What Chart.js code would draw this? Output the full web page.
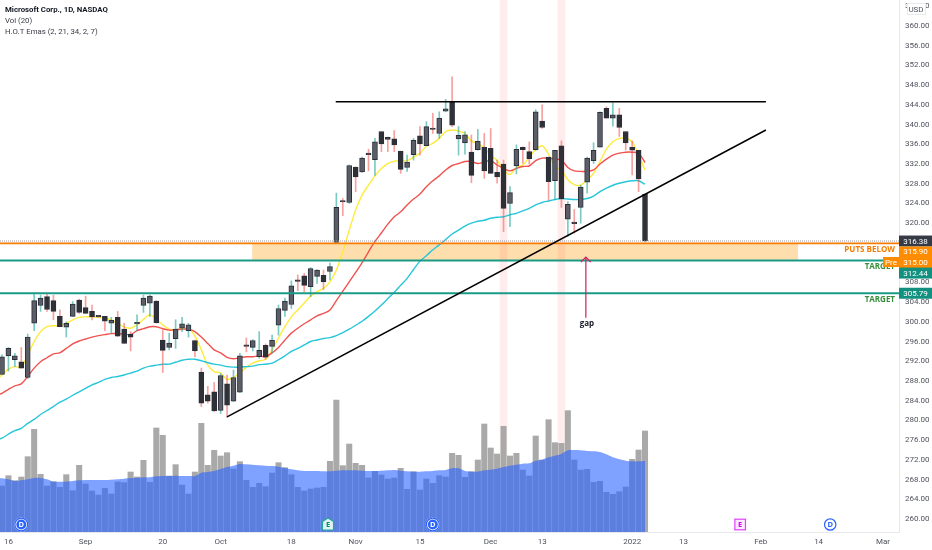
<!DOCTYPE html>
<html><head><meta charset="utf-8">
<style>html,body{margin:0;padding:0;background:#fff}canvas{display:block}</style>
<script src="https://cdn.jsdelivr.net/npm/chart.js@4"></script></head>
<body><canvas id="c" width="932" height="550"></canvas>
<script>
const legendLines = ["Microsoft Corp., 1D, NASDAQ","Vol (20)","H.O.T Emas (2, 21, 34, 2, 7)"];
const candleOpen = [289.3,293.1,292.3,291.9,288.7,299.7,303.3,305.1,304.3,301.1,298.9,301.1,304.4,302.9,302.1,301.2,301.1,299.7,300.9,298.5,297.5,299.6,303.3,303.8,304.2,296.3,294.8,296.6,298.7,298.2,296.2,289.8,285.2,285.8,282.0,287.4,283.9,285.7,295.2,294.8,292.9,295.2,295.0,299.3,302.3,303.5,308.4,309.3,307.1,309.2,309.4,310.2,316.1,324.5,324.2,331.4,330.4,334.1,332.9,338.6,337.4,337.1,334.6,331.3,333.9,337.7,335.7,339.2,338.2,342.7,344.6,337.1,336.3,334.4,334.9,335.4,335.2,330.3,332.0,324.0,331.6,335.4,334.5,334.9,340.7,333.4,328.6,335.7,320.8,320.1,323.2,328.3,332.7,335.4,343.3,341.3,342.0,338.6,335.4,334.8,325.9];
const candleHigh = [293.3,294.8,293.6,294.8,297.5,305.8,305.4,305.6,305.4,302.4,300.0,304.1,304.6,305.2,303.4,301.3,301.1,300.9,302.1,299.7,298.0,301.4,305.4,305.4,304.3,298.7,297.7,300.4,300.9,299.7,296.3,290.6,286.9,287.7,289.5,289.2,290.2,293.6,296.7,296.4,298.0,295.5,297.3,303.4,304.8,308.3,309.5,309.8,311.0,310.6,310.5,311.9,326.1,325.0,331.8,331.4,333.4,335.0,337.2,338.6,337.5,338.8,334.6,333.8,337.2,339.6,340.6,342.3,342.6,345.1,349.7,339.6,338.6,337.9,339.0,338.2,339.2,332.8,332.8,327.4,335.9,335.5,336.5,343.0,344.0,333.4,334.8,336.7,324.4,322.8,327.7,333.4,336.3,342.6,343.6,344.4,343.3,338.6,336.7,334.8,325.9];
const candleLow = [289.3,290.0,290.9,290.6,288.5,298.2,302.1,302.1,300.4,299.0,296.9,301.1,301.7,301.7,300.4,300.9,298.2,297.7,297.0,295.6,294.1,298.2,301.9,301.1,299.7,289.7,294.3,294.6,298.0,296.9,292.9,282.8,283.5,281.8,281.4,280.6,283.8,285.6,293.9,294.1,292.6,292.4,293.7,297.3,301.1,302.7,306.3,306.1,305.1,307.8,306.5,308.5,316.1,321.5,324.0,326.4,330.3,330.6,329.7,334.5,334.5,334.5,330.1,330.5,332.8,333.8,335.7,338.2,337.2,342.6,339.6,333.8,334.0,328.2,334.8,329.1,330.1,328.1,318.3,319.3,330.0,332.1,332.0,334.8,339.2,324.7,324.7,323.2,317.3,318.0,320.0,326.1,332.1,335.4,341.3,339.7,337.6,334.8,329.8,326.4,316.2];
const candleClose = [292.9,294.6,293.1,290.6,296.9,304.3,304.8,302.5,302.1,299.0,299.7,303.6,301.9,301.7,301.0,301.0,300.1,300.3,297.1,295.6,296.9,299.8,304.8,305.2,299.8,294.2,295.7,298.5,299.6,299.4,294.1,283.5,283.9,281.9,289.1,283.1,288.7,293.1,295.0,296.2,294.2,292.8,296.3,302.7,304.2,307.3,308.2,307.4,310.8,310.5,308.1,311.2,323.2,324.3,331.7,329.4,333.2,333.9,336.5,336.1,337.0,335.9,330.9,332.4,336.8,336.1,339.6,339.0,341.3,343.2,339.9,337.8,337.9,329.7,336.6,330.6,330.1,329.4,323.0,326.2,335.0,334.9,333.1,342.6,339.4,328.4,334.8,324.9,323.8,319.9,327.3,333.2,334.8,342.5,341.3,342.0,339.4,336.3,334.8,329.0,316.38];
const volume = [13.8,16.9,15.4,16.5,22.6,30.8,17.3,13.8,15.1,13.4,17.2,12.4,20.0,14.4,12.3,11.1,13.1,11.4,15.0,14.8,18.0,16.5,21.5,14.9,31.2,29.0,16.8,20.2,14.1,11.4,18.0,32.6,20.0,24.5,22.8,23.8,18.9,21.1,15.5,13.4,14.6,13.6,17.7,20.8,19.3,17.2,13.4,12.3,12.9,13.2,13.4,21.2,39.6,19.9,26.4,20.6,20.0,16.2,18.2,17.1,15.9,16.2,19.1,12.8,18.1,12.6,15.9,14.6,16.9,16.5,23.6,23.0,16.4,18.1,21.6,32.4,25.2,23.4,31.7,22.8,23.6,18.6,16.8,28.8,21.6,33.7,26.8,26.6,36.4,21.6,18.6,18.8,14.9,15.2,11.9,11.3,12.1,13.5,21.8,24.6,30.3];
// the moving averages start one session before the first visible candle
const volAverage = [16.2,16.1,15.8,15.3,15.5,15.8,16.2,16.2,15.8,15.1,15.1,15.1,15.3,15.5,15.6,15.6,15.6,15.6,15.7,15.8,16.0,16.2,16.3,16.4,16.4,16.7,16.8,16.8,16.9,16.8,16.8,16.8,17.8,18.0,18.3,18.9,19.5,19.9,20.4,20.3,20.2,20.0,19.9,19.8,19.6,19.2,18.8,18.5,18.3,18.3,18.3,18.2,18.2,18.4,18.5,18.5,18.5,18.4,18.3,18.3,18.4,18.5,18.6,18.4,18.2,18.1,18.1,18.2,18.3,18.5,18.6,19.1,19.1,18.3,18.1,18.1,18.5,18.7,19.0,19.5,19.9,20.2,20.5,20.6,21.4,21.7,22.4,22.9,23.4,24.5,24.6,24.5,24.3,24.2,24.0,23.3,22.4,21.8,21.4,21.2,21.2,21.3];
const emaFast = [288.2,289.2,290.4,290.9,290.8,293.3,296.0,298.0,299.0,299.2,299.2,299.7,300.4,300.9,301.0,301.0,300.9,300.7,300.4,299.7,298.9,298.7,299.4,300.5,301.4,300.5,299.4,298.5,298.3,298.7,298.7,297.1,294.3,291.2,289.9,289.6,288.3,288.7,289.6,290.8,291.6,292.1,292.4,294.3,296.7,299.0,301.0,302.4,303.8,305.2,306.1,306.8,308.1,310.5,314.2,318.6,322.7,325.7,327.7,329.6,331.1,332.1,332.6,332.6,332.7,333.4,334.2,335.6,336.2,337.2,338.6,338.9,338.7,338.2,336.7,336.1,335.3,333.8,332.7,330.8,329.9,331.3,331.8,333.4,334.9,335.7,334.0,331.5,330.8,328.8,327.8,327.7,328.8,330.1,332.5,335.0,336.5,337.2,337.2,336.5,333.8,330.8];
const emaMid = [285.0,285.5,286.3,287.0,287.4,288.9,290.6,291.9,292.7,293.5,293.7,294.6,295.5,296.1,296.5,296.9,297.2,297.4,297.6,297.6,297.5,297.4,298.2,298.6,299.0,299.0,298.6,298.3,298.4,298.5,298.5,298.0,296.9,295.6,294.3,293.7,292.8,292.5,292.7,292.9,292.9,293.1,292.9,293.7,294.8,296.3,297.7,298.7,299.6,300.4,301.2,301.7,302.4,304.3,306.2,308.1,310.0,312.0,314.2,316.3,318.0,319.8,321.3,322.3,323.7,324.9,325.9,327.4,328.6,329.6,330.8,331.7,332.1,332.5,332.5,332.1,332.4,332.7,331.8,331.1,330.6,331.1,331.5,331.6,332.7,333.2,333.2,333.0,332.8,331.3,330.6,330.5,330.5,330.8,332.0,333.0,333.8,334.2,334.4,334.4,334.2,332.3];
const emaSlow = [276.0,276.4,277.2,277.9,278.4,279.4,280.2,281.2,282.0,282.8,283.7,284.3,285.1,285.8,286.5,287.2,287.7,288.3,288.7,288.9,289.2,289.6,290.0,290.6,291.0,291.2,291.4,291.4,291.8,292.2,292.4,292.4,292.1,291.7,291.4,291.2,290.9,290.8,290.8,290.9,291.0,291.3,291.4,291.6,292.3,293.1,294.0,294.6,295.3,296.0,296.3,296.6,296.8,297.2,297.8,298.5,299.3,300.1,301.1,302.2,303.4,304.7,306.0,307.4,308.8,310.6,312.3,313.4,314.6,315.6,316.7,317.8,318.6,319.4,320.0,320.4,320.6,321.0,321.2,321.3,321.7,322.0,322.5,323.0,323.7,324.2,324.5,324.8,325.0,324.9,324.8,324.8,325.0,325.5,326.4,327.1,327.7,328.1,328.4,328.6,328.6,327.9];
const yTicks = [364,360,356,352,348,344,340,336,332,328,324,320,308,304,300,296,292,288,284,280,276,272,268,264,260];
const xTickPositions = [1,13,25,34,45,55,65,76,84,98,106,118,127,137];
const xTickLabels = ["16","Sep","20","Oct","18","Nov","15","Dec","13","2022","13","Feb","14","Mar"];
const highlightDays = [78,87];
const resistanceX = [51.9,118.8], resistanceY = [344.65,344.65];
const trendX = [35,118.8], trendY = [280.7,338.9];
const gapArrowX = [90.8,90.8], gapArrowY = [300.8,313.1];
const zoneX = [38.9,123.8], zoneY = [312.44,315.9];
const lastPrice = 316.38, putsLevel = 315.9, targetLevels = [312.44,305.79];
const priceTags = [[316.38,"316.38","#363a45"],[315.90,"315.90","#ff8c00"],[315.00,"315.00","#ff8c00"],[312.44,"312.44","#119080"],[305.79,"305.79","#119080"]];
const badges = [[3,"D","past"],[50.7,"E","pastE"],[67,"D","past"],[114.8,"E","nextE"],[128.8,"D","next"]];

const F = "'Roboto',sans-serif";
const T = "'Open Sans',sans-serif";
const xMin=-0.311, xMax=139.5, yMin=257.36, yMax=365.27;
const seq=(a,off=0)=>a.map((v,i)=>({x:i+off,y:v}));
const pts=(xs,ys)=>xs.map((x,i)=>({x,y:ys[i]}));
const up=candleOpen.map((o,i)=>candleClose[i]>=o);
const flat=(xs,y)=>xs.map(x=>({x,y}));
const line=(data,color,w,order,extra={})=>Object.assign({type:'line',data,borderColor:color,borderWidth:w,pointRadius:0,order,yAxisID:'y',fill:false,tension:0},extra);

const draw={id:'draw',
 beforeDatasetsDraw(ch){const{ctx,scales:{x,y}}=ch;ctx.save();
  ctx.fillStyle='rgba(255,152,0,0.32)';
  ctx.fillRect(x.getPixelForValue(zoneX[0]),y.getPixelForValue(zoneY[1]),x.getPixelForValue(zoneX[1])-x.getPixelForValue(zoneX[0]),y.getPixelForValue(zoneY[0])-y.getPixelForValue(zoneY[1]));
  ctx.restore();},
 afterDraw(ch){const{ctx,scales:{x,y}}=ch;ctx.save();
  const ax=x.getPixelForValue(gapArrowX[1]),ay=y.getPixelForValue(gapArrowY[1]);
  ctx.strokeStyle='#d81b60';ctx.lineWidth=1.2;ctx.beginPath();ctx.moveTo(ax-5,ay+5);ctx.lineTo(ax,ay);ctx.lineTo(ax+5,ay+5);ctx.stroke();
  ctx.fillStyle='#131722';ctx.font='bold 8px '+T;ctx.textAlign='center';ctx.textBaseline='middle';
  ctx.fillText('gap',ax+1,324);
  ctx.textAlign='right';ctx.font='bold 8px '+T;
  ctx.fillStyle='#f57c00';ctx.fillText('PUTS BELOW',895,y.getPixelForValue(putsLevel)+6);
  ctx.fillStyle='#388e3c';
  targetLevels.forEach(t=>ctx.fillText('TARGET',895,y.getPixelForValue(t)+6.5));
  const nudge=[0,8.6,14.7,12.6,0];
  ctx.textAlign='center';ctx.font='8px '+F;
  priceTags.forEach((t,i)=>{const c=y.getPixelForValue(t[0])+nudge[i];
    ctx.fillStyle=t[2];ctx.fillRect(899,c-5.5,33,11);
    ctx.fillStyle='#fff';ctx.fillText(t[1],915.5,c+.5);});
  ctx.fillStyle='#ff8c00';ctx.fillRect(883,257,16,10);
  ctx.fillStyle='#fff';ctx.fillText('Pre',891,262.5);
  ctx.fillStyle='#fff';ctx.fillRect(907,3,19,12);
  ctx.strokeStyle='#d0d3da';ctx.lineWidth=1;ctx.setLineDash([1,1]);ctx.strokeRect(907.5,3.5,18,11);ctx.setLineDash([]);
  ctx.fillStyle='#50535e';ctx.font='8px '+F;ctx.fillText('USD',916,9.5);
  ctx.textAlign='left';ctx.fillStyle='#131722';
  ctx.font='bold 7.8px '+F;ctx.fillText(legendLines[0],5,10);
  ctx.fillStyle='#3a3d47';ctx.font='7.8px '+F;ctx.fillText(legendLines[1],5,21);ctx.fillText(legendLines[2],5,32);
  badges.forEach(b=>{const px=x.getPixelForValue(b[0]),py=524.5;ctx.textAlign='center';ctx.font='bold 7.5px '+T;ctx.lineWidth=1.2;
    if(b[2]==='past'){ctx.fillStyle='#fff';ctx.beginPath();ctx.arc(px,py,7,0,7);ctx.fill();ctx.fillStyle='#2962ff';ctx.beginPath();ctx.arc(px,py,5,0,7);ctx.fill();ctx.strokeStyle='#2962ff';ctx.beginPath();ctx.arc(px,py,6.4,0,7);ctx.stroke();ctx.fillStyle='#fff';}
    else if(b[2]==='next'){ctx.fillStyle='#fff';ctx.strokeStyle='#2962ff';ctx.beginPath();ctx.arc(px,py,5.7,0,7);ctx.fill();ctx.stroke();ctx.fillStyle='#2962ff';}
    else if(b[2]==='nextE'){ctx.fillStyle='#fbe9fd';ctx.strokeStyle='#e040fb';ctx.fillRect(px-5.3,py-5.3,10.6,10.6);ctx.strokeRect(px-5.3,py-5.3,10.6,10.6);ctx.fillStyle='#d500f9';}
    else{ctx.fillStyle='#e0f5f2';ctx.strokeStyle='#26a69a';ctx.beginPath();[[0,-6.5],[5.5,-3],[5.5,5.5],[-5.5,5.5],[-5.5,-3]].forEach((p,i)=>i?ctx.lineTo(px+p[0],py+p[1]):ctx.moveTo(px+p[0],py+p[1]));ctx.closePath();ctx.fill();ctx.stroke();ctx.fillStyle='#00897b';}
    ctx.fillText(b[1],px,py+.5);});
  ctx.restore();}
};

new Chart(document.getElementById('c'),{
 type:'bar',
 data:{datasets:[
  {label:'highlight',data:highlightDays.map(d=>({x:d,y:[yMin,yMax]})),backgroundColor:'rgba(255,82,82,0.11)',barThickness:7,order:12,grouped:false,yAxisID:'y'},
  {label:'volume',data:seq(volume),backgroundColor:'#a9a9a9',barThickness:5.4,order:11,grouped:false,yAxisID:'vol'},
  line(seq(volAverage,-1),'rgba(41,98,255,0)',0,10,{yAxisID:'vol',fill:'origin',backgroundColor:'rgba(41,98,255,0.6)',tension:0.3}),
  line(seq(emaSlow,-1),'#26c6da',1.4,9,{tension:0.3}),
  line(seq(emaMid,-1),'#ef5350',1.4,9,{tension:0.3}),
  line(seq(emaFast,-1),'#ffeb3b',1.4,9,{tension:0.3}),
  {label:'wicks',data:candleLow.map((l,i)=>({x:i,y:[l,candleHigh[i]]})),backgroundColor:up.map(u=>u?'rgba(38,166,154,0.6)':'rgba(239,83,80,0.55)'),barThickness:1,order:8,grouped:false,yAxisID:'y'},
  {label:'bodies',data:candleOpen.map((o,i)=>({x:i,y:[o,candleClose[i]]})),backgroundColor:up.map(u=>u?'#5b5e66':'#2f3136'),borderColor:'#2a2e39',borderWidth:1,borderSkipped:false,barThickness:5,minBarLength:1.5,order:7,grouped:false,yAxisID:'y'},
  line(flat([xMin,xMax],lastPrice),'#9598a1',1,6,{borderDash:[1,1]}),
  line(flat([xMin,xMax],putsLevel),'#f57c00',1.8,5),
  line(flat([xMin,xMax],targetLevels[0]),'#1a9b88',2,5),
  line(flat([xMin,xMax],targetLevels[1]),'#1a9b88',2,5),
  line(pts(resistanceX,resistanceY),'#000',1.5,4),
  line(pts(trendX,trendY),'#000',1.5,4),
  line(pts(gapArrowX,gapArrowY),'#d81b60',1.2,3),
 ]},
 options:{responsive:false,animation:false,devicePixelRatio:1,
  layout:{padding:0},
  plugins:{legend:{display:false},tooltip:{enabled:false}},
  scales:{
   x:{type:'linear',offset:false,min:xMin,max:xMax,grid:{display:false,drawTicks:false},border:{color:'#e6e8ee'},
     afterBuildTicks(s){s.ticks=xTickPositions.map(v=>({value:v}));},
     afterFit(s){s.height=18;s.paddingLeft=0;s.paddingRight=0;},
     ticks:{autoSkip:false,maxRotation:0,padding:5,color:'#50535e',font:{family:F,size:8},callback:v=>xTickLabels[xTickPositions.indexOf(v)]}},
   y:{type:'linear',position:'right',min:yMin,max:yMax,grid:{display:false,drawTicks:false},border:{color:'#e6e8ee'},
     afterBuildTicks(s){s.ticks=yTicks.map(v=>({value:v}));},
     afterFit(s){s.width=33;s.paddingTop=0;s.paddingBottom=0;},
     ticks:{autoSkip:false,padding:6,color:'#50535e',font:{family:F,size:8},callback:v=>v.toFixed(2)}},
   vol:{type:'linear',display:false,min:0,max:159.6,position:'left'}
  }},
 plugins:[draw]
});
</script></body></html>
